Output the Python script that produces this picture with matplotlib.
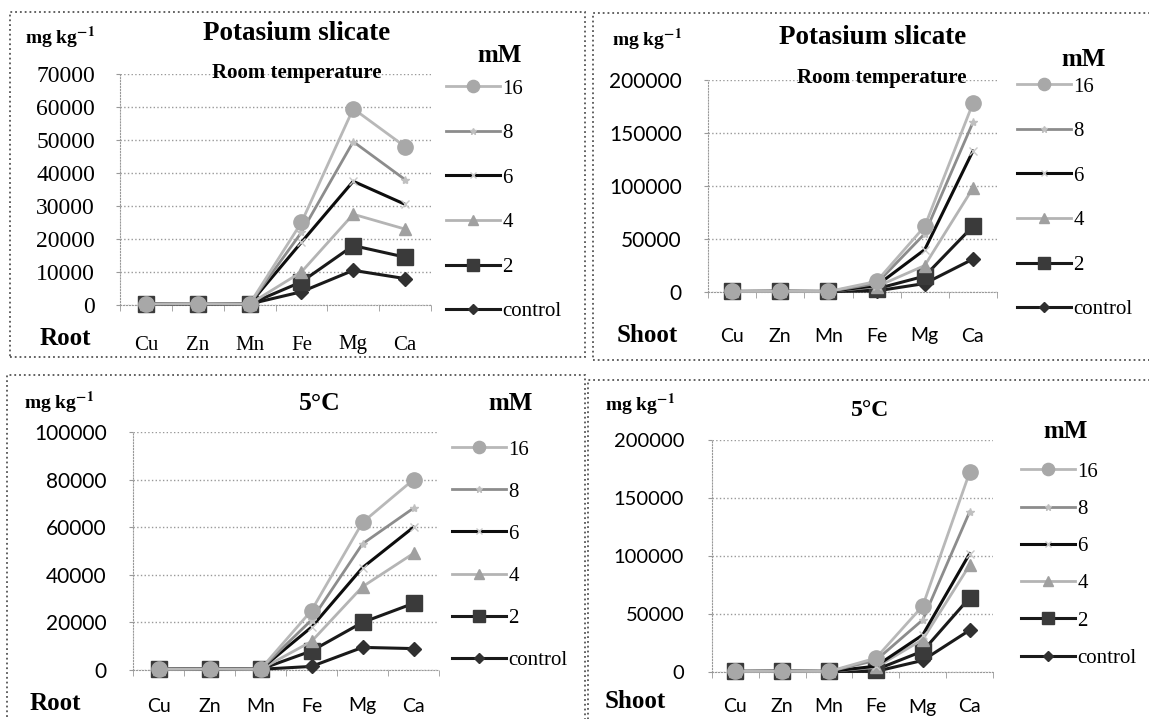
import numpy as np
import matplotlib
matplotlib.use('Agg')
import matplotlib.pyplot as plt
from matplotlib.patches import Rectangle

plt.rcParams['font.family'] = 'Liberation Serif'
plt.rcParams['mathtext.fontset'] = 'stix'

W, H = 1149, 719

elements = ['Cu', 'Zn', 'Mn', 'Fe', 'Mg', 'Ca']
series = ['control', '2', '4', '6', '8', '16']

# Root, room temperature (mg kg-1)
root_rt = {
    'control': [300, 400, 300, 4000, 10500, 8000],
    '2':       [300, 400, 300, 7000, 18000, 14500],
    '4':       [300, 400, 300, 10000, 27500, 23000],
    '6':       [300, 400, 300, 19000, 37500, 30500],
    '8':       [300, 400, 300, 22000, 49500, 38000],
    '16':      [300, 400, 300, 25000, 59500, 48000],
}
# Shoot, room temperature
shoot_rt = {
    'control': [500, 600, 500, 1000, 8000, 31000],
    '2':       [500, 600, 500, 3000, 15000, 62000],
    '4':       [500, 600, 500, 5000, 25000, 98000],
    '6':       [500, 600, 500, 6000, 40000, 133000],
    '8':       [500, 600, 500, 8000, 55000, 160000],
    '16':      [500, 600, 500, 10000, 62000, 178000],
}
# Root, 5 C
root_5c = {
    'control': [300, 400, 300, 1500, 9500, 9000],
    '2':       [300, 400, 300, 8000, 20000, 28000],
    '4':       [300, 400, 300, 12000, 35000, 49000],
    '6':       [300, 400, 300, 18000, 43000, 60000],
    '8':       [300, 400, 300, 21000, 53000, 68000],
    '16':      [300, 400, 300, 25000, 62000, 80000],
}
# Shoot, 5 C
shoot_5c = {
    'control': [500, 600, 500, 500, 10000, 36000],
    '2':       [500, 600, 500, 2000, 18000, 64000],
    '4':       [500, 600, 500, 4000, 28000, 92000],
    '6':       [500, 600, 500, 5000, 32000, 102000],
    '8':       [500, 600, 500, 10000, 45000, 138000],
    '16':      [500, 600, 500, 12000, 57000, 172000],
}

# line color, marker, marker face, marker size
styles = {
    'control': ('#1a1a1a', 'D', '#303030', 7),
    '2':       ('#1a1a1a', 's', '#3a3a3a', 11),
    '4':       ('#b4b4b4', '^', '#a0a0a0', 9),
    '6':       ('#0d0d0d', 'x', '#c8c8c8', 6),
    '8':       ('#8c8c8c', '*', '#c0c0c0', 6),
    '16':      ('#b8b8b8', 'o', '#a8a8a8', 11),
}

fig = plt.figure(figsize=(W / 100, H / 100), dpi=100)


def fx(x):
    return x / W


def fy(y):
    return 1 - y / H


def add_panel(data, box, ymax, ystep, tickfont, tsize, catfont, csize,
              title, tsz, sub, part, ylab_pos, title_pos, mm_pos, leg_pos,
              leg_gap, part_pos, cat_y, ytick_pad):
    l, t, r, b = box
    ax = fig.add_axes([fx(l), fy(b), fx(r - l), (b - t) / H])
    ax.set_facecolor('none')
    x = np.arange(len(elements))
    handles = {}
    for s in series:
        c, m, mf, ms = styles[s]
        ln, = ax.plot(x, data[s], color=c, lw=2.2 if c < '#5' else 2.0,
                      marker=m, markerfacecolor=mf, markeredgecolor=mf,
                      markersize=ms, clip_on=False, zorder=3)
        handles[s] = ln
    ax.set_xlim(-0.5, len(elements) - 0.5)
    ax.set_ylim(0, ymax)
    ax.set_yticks(np.arange(0, ymax + 1, ystep))
    ax.set_yticklabels([f'{int(v)}' for v in np.arange(0, ymax + 1, ystep)],
                       family=tickfont, fontsize=tsize)
    ax.set_xticks(x)
    ax.set_xticklabels([])
    ax.set_xticks(np.arange(-0.5, len(elements), 1), minor=True)
    ax.tick_params(axis='x', which='major', length=0)
    ax.tick_params(axis='x', which='minor', length=4, color='#999999')
    ax.tick_params(axis='y', length=3, color='#999999', pad=ytick_pad)
    ax.grid(axis='y', linestyle=':', color='#999999', lw=1.0)
    for sp in ['top', 'right']:
        ax.spines[sp].set_visible(False)
    for sp in ['left', 'bottom']:
        ax.spines[sp].set_linestyle(':')
        ax.spines[sp].set_color('#999999')
    for i, e in enumerate(elements):
        fig.text(fx(l + (r - l) * (i + 0.5) / len(elements)), fy(cat_y), e,
                 family=catfont, fontsize=csize, ha='center', va='center')

    fig.text(fx(ylab_pos[0]), fy(ylab_pos[1]), r'mg kg$^{\mathbf{-1}}$',
             fontweight='bold', fontsize=14, ha='left', va='center')
    fig.text(fx(title_pos[0]), fy(title_pos[1]), title, fontweight='bold',
             fontsize=tsz, ha='center', va='center')
    if sub:
        fig.text(fx(sub[1]), fy(sub[2]), sub[0], fontweight='bold',
                 fontsize=15, ha='center', va='center')
    fig.text(fx(part_pos[0]), fy(part_pos[1]), part, fontweight='bold',
             fontsize=18, ha='left', va='center')
    fig.text(fx(mm_pos[0]), fy(mm_pos[1]), 'mM', fontweight='bold',
             fontsize=18, ha='center', va='center')
    order = ['16', '8', '6', '4', '2', 'control']
    leg = fig.legend([handles[s] for s in order], order,
                     loc='upper left', frameon=False,
                     bbox_to_anchor=(fx(leg_pos[0]), fy(leg_pos[1])),
                     prop={'family': 'Liberation Serif', 'size': 15},
                     handlelength=2.6, handletextpad=0.1,
                     labelspacing=leg_gap, borderpad=0, borderaxespad=0)
    for h in leg.legend_handles:
        h.set_markersize(h.get_markersize() * 0.8)
    return ax


def border(l, t, r, b):
    fig.add_artist(Rectangle((fx(l), fy(b)), fx(r - l), (b - t) / H,
                             transform=fig.transFigure, fill=False,
                             ls=':', lw=1.3, ec='#555555'))


border(10, 12, 585, 357)
border(593, 13, 1160, 360)
border(7, 375, 585, 730)
border(588, 380, 1160, 730)

add_panel(root_rt, (120, 74, 431, 305), 70000, 10000,
          'Liberation Serif', 17, 'Liberation Serif', 15,
          'Potasium slicate', 19.5, ('Room temperature', 297, 73), 'Root',
          (25, 38), (297, 33), (500, 55), (446, 79), 1.2, (40, 338), 345, 15)
add_panel(shoot_rt, (708, 80, 997, 292), 200000, 50000,
          'Lato', 15, 'Lato', 14,
          'Potasium slicate', 19.5, ('Room temperature', 882, 78), 'Shoot',
          (612, 40), (873, 38), (1084, 60), (1017, 77), 1.2, (617, 335), 336, 16)
add_panel(root_5c, (133, 432, 439, 670), 100000, 20000,
          'Lato', 15, 'Lato', 14,
          '5°C', 18.5, None, 'Root',
          (24, 403), (320, 403), (511, 403), (452, 440), 1.08, (30, 703), 706, 16)
add_panel(shoot_5c, (712, 440, 993, 672), 200000, 50000,
          'Lato', 14.5, 'Lato', 14,
          '5°C', 17, None, 'Shoot',
          (605, 405), (870, 410), (1066, 432), (1021, 462), 0.85, (605, 701), 707, 17)

fig.savefig('out.png', dpi=100)
